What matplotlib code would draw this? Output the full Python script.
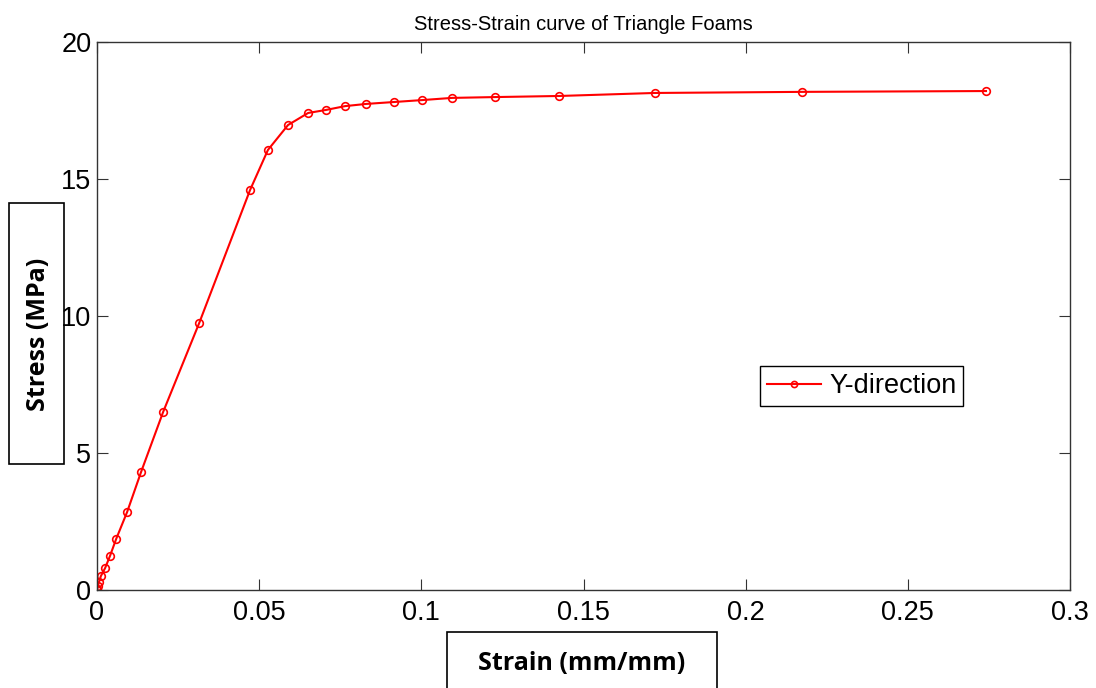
import matplotlib
matplotlib.use("Agg")
import matplotlib.pyplot as plt
from matplotlib.patches import Rectangle

# values
strain = [0.0, 0.0001, 0.0003, 0.0006, 0.0012, 0.0025, 0.0040, 0.0059, 0.0093,
          0.0136, 0.0204, 0.0315, 0.0472, 0.0527, 0.0589, 0.0651, 0.0706,
          0.0765, 0.0830, 0.0916, 0.1002, 0.1095, 0.1227, 0.1425, 0.1720,
          0.2174, 0.2741]
stress = [0.0, 0.04, 0.15, 0.29, 0.51, 0.80, 1.24, 1.86, 2.85,
          4.31, 6.50, 9.74, 14.60, 16.06, 16.97, 17.41, 17.52,
          17.66, 17.74, 17.81, 17.88, 17.96, 17.99, 18.03, 18.14,
          18.18, 18.21]
series_name = "Y-direction"
xticks = [0, 0.05, 0.1, 0.15, 0.2, 0.25, 0.3]
xticklabels = ["0", "0.05", "0.1", "0.15", "0.2", "0.25", "0.3"]
yticks = [0, 5, 10, 15, 20]

plt.rcParams['font.family'] = ['Liberation Sans', 'DejaVu Sans']

W, H = 1096, 688
fig = plt.figure(figsize=(W / 100, H / 100), dpi=100)
ax = fig.add_axes([97 / W, 1 - 590 / H, 973 / W, 548 / H])

ax.plot(strain, stress, color='red', lw=1.5, marker='o', markersize=5.5,
        markerfacecolor='none', markeredgecolor='red', markeredgewidth=1.2,
        label=series_name)

ax.set_xlim(0, 0.3)
ax.set_ylim(0, 20)
ax.set_xticks(xticks)
ax.set_xticklabels(xticklabels)
ax.set_yticks(yticks)
ax.tick_params(direction='in', length=8, width=0.8, labelsize=19.5,
               top=True, right=True, colors='#333333', labelcolor='black')
ax.tick_params(axis='x', pad=7)
ax.tick_params(axis='y', pad=4)
for s in ax.spines.values():
    s.set_color('#333333')
    s.set_linewidth(1.0)

ax.set_title("Stress-Strain curve of Triangle Foams", fontsize=14.5, pad=9)

leg = ax.legend(loc='center', bbox_to_anchor=(0.786, 0.372), fontsize=19.5,
                fancybox=False, framealpha=1, edgecolor='black',
                handlelength=2.0, handletextpad=0.3, borderpad=0.25,
                borderaxespad=0, markerscale=0.8)
leg.get_frame().set_linewidth(1.0)

# boxed axis labels
lab_font = dict(family=['Open Sans', 'DejaVu Sans'], fontweight='bold', fontsize=18)
fig.add_artist(Rectangle((9 / W, 1 - 464 / H), 55 / W, 261 / H, transform=fig.transFigure,
                         fill=False, edgecolor='black', lw=1.2))
fig.text(39 / W, 1 - 334 / H, "Stress (MPa)", rotation=90, ha='center', va='center', **lab_font)
fig.add_artist(Rectangle((447 / W, 1 - 690 / H), 270 / W, 58 / H, transform=fig.transFigure,
                         fill=False, edgecolor='black', lw=1.2))
fig.text(582 / W, 1 - 663 / H, "Strain (mm/mm)", ha='center', va='center', **lab_font)

fig.savefig("out.png", dpi=100)
